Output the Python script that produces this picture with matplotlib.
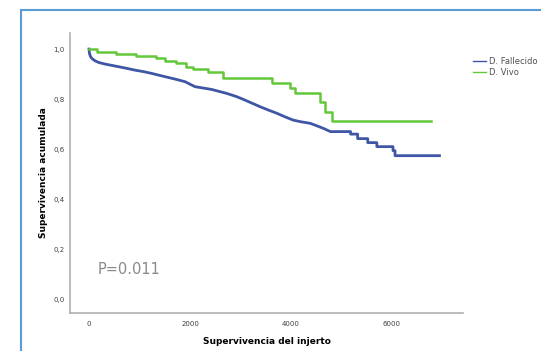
import matplotlib
matplotlib.use("Agg")
import matplotlib.pyplot as plt
from matplotlib.patches import Rectangle

# Kaplan-Meier curves (time in days, cumulative survival)
# D. Fallecido has many small events -> traced as a polyline, with the
# visible late steps given as repeated time points
fallecido_t = [0, 10, 30, 60, 120, 200, 320, 450, 575, 750, 910, 1080, 1240, 1400,
               1565, 1730, 1900, 2000, 2100, 2250, 2430, 2580, 2730, 2900, 3050,
               3220, 3390, 3550, 3720, 3880, 4040, 4200, 4380, 4500, 4640, 4780,
               5180, 5180, 5320, 5320, 5520, 5520, 5700, 5700, 6020, 6020, 6060,
               6060, 6940]
fallecido_s = [1.0, 0.982, 0.970, 0.962, 0.953, 0.946, 0.940, 0.935, 0.930, 0.923,
               0.916, 0.910, 0.903, 0.895, 0.887, 0.879, 0.870, 0.860, 0.850, 0.845,
               0.839, 0.831, 0.823, 0.812, 0.800, 0.785, 0.770, 0.757, 0.744, 0.730,
               0.717, 0.710, 0.704, 0.695, 0.684, 0.671, 0.671, 0.661, 0.661, 0.643,
               0.643, 0.627, 0.627, 0.611, 0.611, 0.595, 0.595, 0.575, 0.575]

vivo_t = [0, 150, 530, 925, 1320, 1500, 1730, 1930, 2060, 2360, 2660, 3620,
          3980, 4080, 4574, 4673, 4805, 6770]
vivo_s = [1.0, 0.989, 0.980, 0.973, 0.963, 0.952, 0.943, 0.930, 0.920, 0.910,
          0.886, 0.866, 0.843, 0.823, 0.787, 0.750, 0.713, 0.713]

y_ticks = [0.0, 0.2, 0.4, 0.6, 0.8, 1.0]
x_ticks = [0, 2000, 4000, 6000]

fig = plt.figure(figsize=(5.41, 3.51), dpi=100)
ax = fig.add_axes([0.1294, 0.1083, 0.7264, 0.7977])

ax.plot(fallecido_t, fallecido_s, color="#3f56a6", lw=2.0, label="D. Fallecido")
ax.plot(vivo_t, vivo_s, drawstyle="steps-post", color="#62c83a",
        lw=1.8, label="D. Vivo")

ax.set_xlim(-376, 7406)
ax.set_ylim(-0.052, 1.064)
ax.set_yticks(y_ticks)
ax.set_yticklabels([f"{v:.1f}".replace(".", ",") for v in y_ticks])
ax.set_xticks(x_ticks)
ax.tick_params(length=0, labelsize=5, colors="#404040")
ax.tick_params(axis="y", pad=4)
ax.tick_params(axis="x", pad=6)

for side in ["top", "right"]:
    ax.spines[side].set_visible(False)
for side in ["left", "bottom"]:
    ax.spines[side].set_color("#b0b0b0")
    ax.spines[side].set_linewidth(1.2)

ax.set_xlabel("Supervivencia del injerto", fontsize=6.5, fontweight="bold", labelpad=7)
ax.set_ylabel("Supervivencia acumulada", fontsize=6.5, fontweight="bold", labelpad=4)

ax.text(0.071, 0.154, "P=0.011", transform=ax.transAxes, fontsize=10.5,
        color="#8a8a8a", va="center", ha="left")

leg = ax.legend(loc="upper left", bbox_to_anchor=(1.018, 0.925), frameon=False,
                fontsize=6, handlelength=1.5, handletextpad=0.4,
                labelspacing=0.15, borderaxespad=0)
for t in leg.get_texts():
    t.set_color("#505050")
for h in leg.get_lines():
    h.set_linewidth(1.0)

# light blue frame around the slide picture
fig.patches.append(Rectangle((21 / 541, -0.1), 1.2, 1 - 10 / 351 + 0.1,
                             transform=fig.transFigure, fill=False,
                             edgecolor="#5b9bd5", lw=1.5))

fig.savefig("out.png", dpi=100)
